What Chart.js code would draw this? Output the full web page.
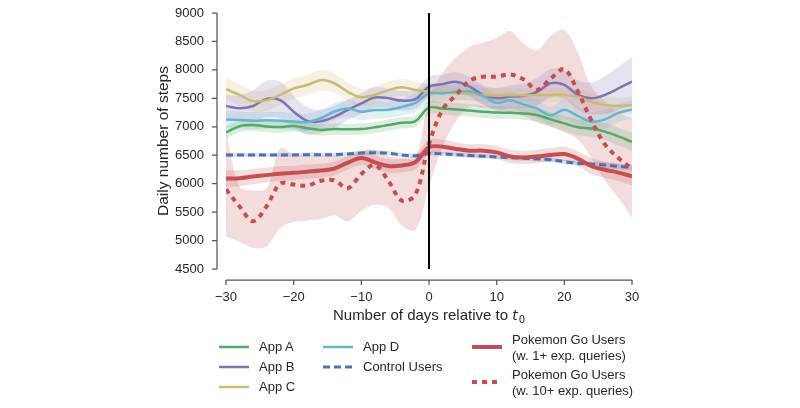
<!DOCTYPE html>
<html lang="en">
<head>
<meta charset="UTF-8">
<title>Daily number of steps around t0</title>
<script src="https://cdn.jsdelivr.net/npm/chart.js"></script>
<style>
    html, body { margin: 0; padding: 0; background: #fff; }
    .wrap { position: relative; width: 800px; height: 408px; font-family: "Liberation Sans", Arial, sans-serif; }
    #chart { position: absolute; left: 0; top: 0; }
    .leg { position: absolute; font-size: 13px; color: #262626; line-height: 15.5px; white-space: nowrap; }
    .leg svg { position: absolute; left: 0; top: -3px; }
    .leg span { position: absolute; transform: translateY(-50%); top: 0; }
</style>
</head>
<body>
<div class="wrap">
    <canvas id="chart" width="800" height="408"></canvas>
    <div id="legend"></div>
</div>
<script>
// days relative to t0
const days = [-30,-28,-26,-24,-22,-20,-18,-16,-14,-12,-10,-8,-6,-4,-2,0,2,4,6,8,10,12,14,16,18,20,22,24,26,28,30];

const appA    = [6900,7010,7030,7005,6995,7015,6975,6945,6960,6955,6960,6990,7030,7070,7100,7340,7320,7305,7285,7265,7250,7245,7235,7205,7130,7060,6990,6970,6915,6830,6735];
const appAErr = [110,105,100,100,100,100,100,100,100,100,100,100,100,100,100,110,110,110,110,110,110,110,115,120,125,130,140,145,150,155,160];

const appB    = [7365,7325,7365,7490,7470,7265,7105,7095,7175,7295,7410,7515,7500,7460,7485,7705,7750,7790,7705,7560,7500,7530,7545,7615,7765,7735,7560,7500,7560,7675,7795];
const appBErr = [200,230,280,320,320,280,240,200,190,180,180,180,170,170,170,180,170,170,170,170,180,200,220,240,250,250,260,280,330,380,430];

const appC    = [7660,7560,7450,7465,7560,7675,7735,7820,7765,7615,7520,7560,7645,7695,7645,7615,7610,7590,7580,7560,7555,7555,7555,7555,7560,7560,7530,7440,7385,7365,7380];
const appCErr = [200,190,180,180,180,180,180,180,170,160,150,150,150,150,150,140,130,120,120,120,120,120,120,120,130,130,140,140,150,150,150];

const appD    = [7130,7120,7108,7115,7108,7092,7080,7150,7265,7320,7265,7295,7300,7350,7420,7590,7585,7615,7620,7540,7420,7465,7390,7320,7200,7300,7190,7090,7130,7245,7305];
const appDErr = [150,150,150,150,150,150,150,150,150,150,150,150,150,150,160,170,160,150,150,150,150,150,150,160,160,170,170,170,160,160,160];

const control    = [6505,6505,6505,6505,6505,6505,6510,6510,6510,6520,6540,6545,6535,6505,6490,6530,6525,6510,6495,6482,6470,6458,6445,6435,6420,6385,6360,6345,6328,6305,6285];
const controlErr = [40,40,40,38,38,38,38,38,38,38,40,40,40,40,40,40,38,38,38,38,38,40,40,40,42,42,45,45,48,50,50];

const poke1    = [6090,6095,6125,6150,6175,6190,6210,6230,6265,6370,6450,6375,6310,6320,6380,6640,6650,6610,6580,6580,6550,6480,6462,6480,6505,6520,6440,6310,6245,6195,6130];
const poke1Err = [150,140,135,130,130,125,125,120,120,120,120,120,120,120,125,130,125,120,115,115,115,115,115,115,120,125,130,140,145,150,160];

const poke10     = [5900,5600,5340,5600,6000,5985,5965,6050,6060,5920,6170,6330,6050,5700,5810,6700,7300,7560,7810,7880,7880,7920,7830,7650,7850,8010,7620,7110,6690,6450,6260];
const poke10Low  = [5070,4980,4870,4900,5220,5330,5350,5380,5440,5340,5520,5630,5570,5270,5185,5950,6650,7100,7350,7330,7300,7250,7180,7080,7000,6900,6780,6450,6050,5750,5400];
const poke10High = [6900,5950,5880,5920,6620,6520,6480,6500,6490,6480,6560,6600,6480,6450,6450,7500,7950,8220,8400,8480,8560,8680,8460,8350,8600,8700,8300,7700,7450,7250,7150];

const xTicks = [-30, -20, -10, 0, 10, 20, 30];
const yMin = 4500, yMax = 9000, yStep = 500;

const GREEN = '#55A868', PURPLE = '#8172B2', KHAKI = '#CCB974', CYAN = '#64B5CD', BLUE = '#4C72B0', RED = '#C44E52';

function pts(arr) { return days.map((d, i) => ({ x: d, y: arr[i] })); }
function rgba(hex, a) {
    const n = parseInt(hex.slice(1), 16);
    return `rgba(${n >> 16},${(n >> 8) & 255},${n & 255},${a})`;
}

const series = [
    { label: ['App A'], mean: appA, lo: appA.map((v, i) => v - appAErr[i]), hi: appA.map((v, i) => v + appAErr[i]), color: GREEN, width: 2.5, dash: [] },
    { label: ['App B'], mean: appB, lo: appB.map((v, i) => v - appBErr[i]), hi: appB.map((v, i) => v + appBErr[i]), color: PURPLE, width: 2.5, dash: [] },
    { label: ['App C'], mean: appC, lo: appC.map((v, i) => v - appCErr[i]), hi: appC.map((v, i) => v + appCErr[i]), color: KHAKI, width: 2.5, dash: [] },
    { label: ['App D'], mean: appD, lo: appD.map((v, i) => v - appDErr[i]), hi: appD.map((v, i) => v + appDErr[i]), color: CYAN, width: 2.5, dash: [] },
    { label: ['Control Users'], mean: control, lo: control.map((v, i) => v - controlErr[i]), hi: control.map((v, i) => v + controlErr[i]), color: BLUE, width: 3, dash: [7, 4] },
    { label: ['Pokemon Go Users', '(w. 1+ exp. queries)'], mean: poke1, lo: poke1.map((v, i) => v - poke1Err[i]), hi: poke1.map((v, i) => v + poke1Err[i]), color: RED, width: 4, dash: [] },
    { label: ['Pokemon Go Users', '(w. 10+ exp. queries)'], mean: poke10, lo: poke10Low, hi: poke10High, color: RED, width: 4, dash: [5, 5] }
];

const TENSION = 0.35;
const datasets = [];
series.forEach(s => {
    // confidence band: lower edge, then upper edge filled down to it
    datasets.push({ data: pts(s.lo), borderWidth: 0, pointRadius: 0, fill: false, tension: TENSION, order: 20 });
    datasets.push({ data: pts(s.hi), borderWidth: 0, pointRadius: 0, fill: '-1', backgroundColor: rgba(s.color, 0.2), tension: TENSION, order: 20 });
});
series.forEach((s, k) => {
    datasets.push({
        label: s.label.join(' '), data: pts(s.mean), borderColor: s.color, borderWidth: s.width,
        borderDash: s.dash, borderCapStyle: 'butt', pointRadius: 0, fill: false, tension: TENSION,
        order: series.length - k
    });
});

// offset spines (seaborn despine style), t0 marker and x-axis title
const decorations = {
    id: 'decorations',
    afterDatasetsDraw(chart) {
        const { ctx, scales: { x, y } } = chart;
        ctx.save();
        ctx.strokeStyle = '#000';
        ctx.lineWidth = 2;
        const px = x.getPixelForValue(0);
        ctx.beginPath();
        ctx.moveTo(px, y.getPixelForValue(yMax));
        ctx.lineTo(px, y.getPixelForValue(yMin));
        ctx.stroke();
        ctx.restore();
    },
    afterDraw(chart) {
        const { ctx, scales: { x, y } } = chart;
        const sx = x.left - 9;
        const sy = y.bottom + 11;
        ctx.save();
        ctx.strokeStyle = '#555';
        ctx.lineWidth = 1.25;
        ctx.beginPath();
        ctx.moveTo(sx, y.getPixelForValue(yMax));
        ctx.lineTo(sx, y.getPixelForValue(yMin));
        y.ticks.forEach(t => {
            const p = y.getPixelForValue(t.value);
            ctx.moveTo(sx - 5, p); ctx.lineTo(sx, p);
        });
        ctx.moveTo(x.getPixelForValue(xTicks[0]), sy);
        ctx.lineTo(x.getPixelForValue(xTicks[xTicks.length - 1]), sy);
        x.ticks.forEach(t => {
            const p = x.getPixelForValue(t.value);
            ctx.moveTo(p, sy); ctx.lineTo(p, sy + 5);
        });
        ctx.stroke();

        // "Number of days relative to t0" with italic t and subscript 0
        const main = 'Number of days relative to ';
        const fMain = '15px "Liberation Sans", Arial, sans-serif';
        const fIt = 'italic 14px "DejaVu Sans", sans-serif';
        const fSub = '10px "DejaVu Sans", sans-serif';
        ctx.fillStyle = '#262626';
        ctx.textBaseline = 'alphabetic';
        ctx.textAlign = 'left';
        ctx.font = fMain; const w1 = ctx.measureText(main).width;
        ctx.font = fIt; const w2 = ctx.measureText('t').width;
        ctx.font = fSub; const w3 = ctx.measureText('0').width;
        const cx = (x.left + x.right) / 2;
        const by = y.bottom + 51;
        let tx = cx - (w1 + w2 + w3 + 1) / 2;
        ctx.font = fMain; ctx.fillText(main, tx, by); tx += w1;
        ctx.font = fIt; ctx.fillText('t', tx, by); tx += w2 + 1;
        ctx.font = fSub; ctx.fillText('0', tx, by + 3);
        ctx.restore();
    }
};

Chart.defaults.font.family = '"Liberation Sans", Arial, sans-serif';
Chart.defaults.font.size = 13;
Chart.defaults.color = '#262626';

new Chart(document.getElementById('chart'), {
    type: 'line',
    data: { datasets },
    options: {
        responsive: false,
        animation: false,
        events: [],
        layout: { padding: { left: 150, right: 168, top: 13, bottom: 79 } },
        plugins: {
            legend: { display: false },
            tooltip: { enabled: false },
            filler: { propagate: false }
        },
        scales: {
            x: {
                type: 'linear', min: -30, max: 30,
                grid: { display: false, drawTicks: true, tickLength: 18 },
                border: { display: false },
                ticks: {
                    stepSize: 10, padding: 3, maxRotation: 0,
                    callback: v => (v < 0 ? '\u2212' + Math.abs(v) : String(v))
                },
                afterFit: s => { s.height = 60; }
            },
            y: {
                type: 'linear', min: yMin, max: yMax,
                grid: { display: false, drawTicks: true, tickLength: 19 },
                border: { display: false },
                ticks: { stepSize: yStep, padding: 3, callback: v => String(v) },
                title: {
                    display: true, text: 'Daily number of steps',
                    font: { size: 15.5 }, padding: { top: 4, bottom: 0 }
                },
                afterFit: s => { s.width = 76; }
            }
        }
    },
    plugins: [decorations]
});

// legend: three columns below the axes
const legendSlots = [
    { left: 219, top: 347 }, { left: 219, top: 367 }, { left: 219, top: 387 },
    { left: 323, top: 347 }, { left: 323, top: 367 },
    { left: 472, top: 347 }, { left: 472, top: 382 }
];
const legend = document.getElementById('legend');
series.forEach((s, k) => {
    const slot = legendSlots[k];
    const div = document.createElement('div');
    div.className = 'leg';
    div.style.left = slot.left + 'px';
    div.style.top = slot.top + 'px';
    const dash = s.dash.length ? `stroke-dasharray="${s.dash.join(' ')}"` : '';
    div.innerHTML =
        `<svg width="30" height="6"><line x1="0" y1="3" x2="30" y2="3" stroke="${s.color}" stroke-width="${s.width}" ${dash}/></svg>` +
        `<span style="left:40px">${s.label.join('<br>')}</span>`;
    legend.appendChild(div);
});
</script>
</body>
</html>
